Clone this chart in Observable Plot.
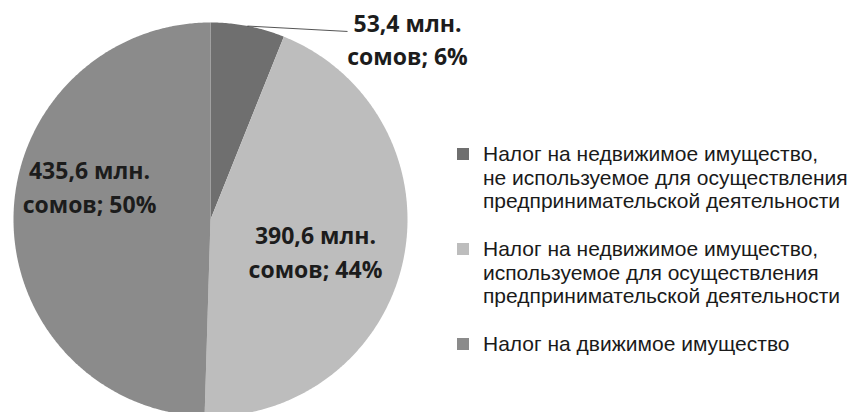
<!DOCTYPE html>
<html>
<head>
<meta charset="utf-8">
<script src="https://cdn.jsdelivr.net/npm/d3@7"></script>
<script src="https://cdn.jsdelivr.net/npm/@observablehq/plot@0.6"></script>
<style>
  html, body { margin: 0; padding: 0; background: #fff; }
  #wrap { position: relative; width: 853px; height: 412px; overflow: hidden; }
  #legend { position: absolute; left: 457px; top: 142px; font-family: "Liberation Sans", Arial, sans-serif; font-size: 21px; line-height: 23.5px; color: #1a1a1a; }
  .item { position: relative; padding-left: 26px; margin-bottom: 24.5px; white-space: pre; }
  .sw { position: absolute; left: 0; top: 6px; width: 12px; height: 12px; }
</style>
</head>
<body>
<div id="wrap"><div id="chart"></div><div id="legend"></div></div>
<script>
// ---- data ----
const categories = [
  "Налог на недвижимое имущество,\nне используемое для осуществления\nпредпринимательской деятельности",
  "Налог на недвижимое имущество,\nиспользуемое для осуществления\nпредпринимательской деятельности",
  "Налог на движимое имущество"
];
const values = [53.4, 390.6, 435.6];        // млн. сомов
const percents = [6, 44, 50];
const colors = ["#6f6f6f", "#bdbdbd", "#8b8b8b"];

// ---- layout (polar placement of labels: angle in degrees from 12 o'clock, radius in pie units) ----
const labelPolar = [[47.8, 1.35], [107.9, 0.56], [284.4, 0.634]];
const leaderEndPolar = [36, 1.18];

const fmt = v => String(v).replace(".", ",");
const arcs = d3.pie().sort(null).value(d => d)(values);
const polar = (a, r) => ({x: r * Math.sin(a), y: r * Math.cos(a)});

// slice outlines (unit radius) built from pie angles
const slicePts = [];
arcs.forEach((a, i) => {
  const cat = categories[i];
  slicePts.push({...polar(0, 0), cat});
  const n = Math.max(8, Math.ceil((a.endAngle - a.startAngle) / (Math.PI / 360)));
  for (let k = 0; k <= n; ++k) {
    const t = a.startAngle + (a.endAngle - a.startAngle) * k / n;
    slicePts.push({...polar(t, 1), cat});
  }
  slicePts.push({...polar(0, 0), cat});
});

const rad = d => d * Math.PI / 180;
const labelData = arcs.map((a, i) => ({
  ...polar(rad(labelPolar[i][0]), labelPolar[i][1]),
  text: `${fmt(values[i])} млн.\nсомов; ${percents[i]}%`
}));

const mid0 = (arcs[0].startAngle + arcs[0].endAngle) / 2;
const leader = [polar(mid0, 1), polar(rad(leaderEndPolar[0]), leaderEndPolar[1])];

const plot = Plot.plot({
  width: 853,
  height: 412,
  marginLeft: 13,
  marginRight: 446,
  marginTop: 22,
  marginBottom: 0,
  x: {domain: [-1, 1], axis: null},
  y: {domain: [-0.98, 1], axis: null},
  color: {domain: categories, range: colors},
  style: {background: "transparent"},
  marks: [
    Plot.line(slicePts, {x: "x", y: "y", z: "cat", fill: "cat", stroke: "none", curve: "linear"}),
    Plot.line(leader, {x: "x", y: "y", stroke: "#2a2a2a", strokeWidth: 0.8}),
    Plot.text(labelData, {
      x: "x", y: "y", text: "text", dy: -3,
      fontFamily: "'Open Sans', Lato, sans-serif", fontWeight: "bold", fontSize: 23,
      lineHeight: 1.45, lineAnchor: "middle", textAnchor: "middle", fill: "#1c1c1c"
    })
  ]
});
document.getElementById("chart").appendChild(plot);

// legend built from the color scale
const scale = plot.scale("color");
const legend = document.getElementById("legend");
categories.forEach(c => {
  const item = document.createElement("div");
  item.className = "item";
  const sw = document.createElement("span");
  sw.className = "sw";
  sw.style.background = scale.apply(c);
  item.appendChild(sw);
  item.appendChild(document.createTextNode(c));
  legend.appendChild(item);
});
</script>
</body>
</html>
